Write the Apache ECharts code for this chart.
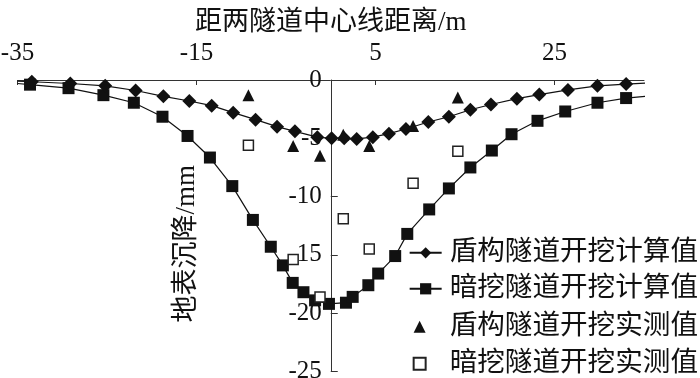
<!DOCTYPE html>
<html>
<head>
<meta charset="utf-8">
<script src="https://cdn.jsdelivr.net/npm/echarts@6/dist/echarts.min.js"></script>
<style>html,body{margin:0;padding:0;background:#fff}#c{width:700px;height:378px}</style>
</head>
<body>
<div id="c"></div>
<script>
// 盾构隧道开挖计算值 [x (m), settlement (mm)]
var shieldCalc = [[-35,-0.1],[-33.4,-0.15],[-29.1,-0.3],[-25.2,-0.5],[-21.8,-0.9],[-18.7,-1.4],[-15.8,-1.8],[-13.3,-2.2],[-10.9,-2.8],[-8.4,-3.4],[-6.0,-4.0],[-4.0,-4.4],[-1.5,-4.9],[0.1,-5.0],[1.5,-5.0],[2.9,-5.05],[4.7,-4.9],[6.5,-4.6],[8.4,-4.2],[10.9,-3.6],[13.2,-3.15],[15.6,-2.55],[17.9,-2.1],[20.8,-1.6],[23.3,-1.25],[26.5,-0.85],[29.8,-0.5],[33.0,-0.35],[35.7,-0.25]];
// 暗挖隧道开挖计算值
var minedCalc = [[-35,-0.3],[-33.6,-0.4],[-29.3,-0.7],[-25.4,-1.3],[-22.0,-1.95],[-18.8,-3.15],[-16.0,-4.8],[-13.5,-6.65],[-11.0,-9.1],[-8.7,-12.0],[-6.7,-14.3],[-5.35,-15.9],[-4.25,-17.4],[-3.05,-18.2],[-1.75,-18.9],[-0.2,-19.2],[1.7,-19.1],[2.45,-18.6],[4.2,-17.6],[5.3,-16.6],[7.2,-15.1],[8.55,-13.2],[11.0,-11.1],[13.2,-9.3],[15.6,-7.5],[18.0,-6.05],[20.2,-4.65],[23.1,-3.5],[26.2,-2.7],[29.8,-1.95],[33.0,-1.55],[35.8,-1.35]];
// 盾构隧道开挖实测值
var shieldMeas = [[-9.2,-1.3],[-4.2,-5.65],[-1.2,-6.5],[1.4,-4.7],[4.3,-5.65],[9.2,-3.95],[14.2,-1.5]];
// 暗挖隧道开挖实测值
var minedMeas = [[-9.2,-5.6],[-4.2,-15.4],[-1.2,-18.6],[1.4,-11.9],[4.3,-14.5],[9.2,-8.85],[14.2,-6.1]];
var seriesNames = ['盾构隧道开挖计算值','暗挖隧道开挖计算值','盾构隧道开挖实测值','暗挖隧道开挖实测值'];
var xTicks = [-35,-15,5,25];
var yTicks = [-25,-20,-15,-10,-5,0];
var xName = '距两隧道中心线距离/m';
var yName = '地表沉降/mm';

function lineData(arr){
  return arr.map(function(p,i){
    if(i===0 || i===arr.length-1) return {value:p, symbol:'none'};
    return p;
  });
}
var serif = '"Liberation Serif","Noto Sans CJK SC",serif';
var cjk = '"Liberation Serif","Noto Sans CJK SC",sans-serif';
var legendTops = [239, 275, 313, 350];
var legends = seriesNames.map(function(n,i){
  var isLine = i < 2;
  return {
    orient:'vertical', right:2, top:legendTops[i], padding:0,
    itemWidth: isLine ? 32 : 12, itemHeight: isLine ? 14 : 12,
    data:[n],
    textStyle:{fontFamily:cjk,fontSize:27.6,color:'#111',padding: isLine ? [0,0,0,3] : [0,0,0,19]}
  };
});
var gridLeft = 17.5, gridRight = 56, plotW = 700 - gridLeft - gridRight;
var xMin = -35, xMax = 35;
var yAxisOffset = -plotW * (0 - xMin) / (xMax - xMin);
var chart = echarts.init(document.getElementById('c'), null, {renderer:'canvas'});
chart.setOption({
  animation:false,
  backgroundColor:'#fff',
  grid:{left:gridLeft,right:gridRight,top:80,bottom:6.5,containLabel:false,outerBoundsMode:'none'},
  legend:legends,
  xAxis:{
    type:'value', position:'top', min:xMin, max:xMax,
    name:xName, nameLocation:'middle', nameGap:44,
    nameTextStyle:{fontFamily:cjk,fontSize:27,color:'#111'},
    axisLine:{onZero:false,lineStyle:{color:'#333',width:1}},
    axisTick:{inside:true,length:5,customValues:xTicks,lineStyle:{color:'#333'}},
    axisLabel:{customValues:xTicks,margin:14,fontFamily:serif,fontSize:25,color:'#111'},
    splitLine:{show:false}
  },
  yAxis:{
    type:'value', position:'left', offset:yAxisOffset, min:-25, max:0, interval:5,
    name:yName, nameLocation:'middle', nameGap:130,
    nameTextStyle:{fontFamily:cjk,fontSize:27,color:'#111',padding:[0,36,0,0]},
    axisLine:{onZero:false,lineStyle:{color:'#333',width:1}},
    axisTick:{inside:true,length:7,customValues:yTicks,lineStyle:{color:'#333'}},
    axisLabel:{customValues:yTicks,margin:9,fontFamily:serif,fontSize:25,color:'#111'},
    splitLine:{show:false}
  },
  series:[
    {name:seriesNames[0],type:'line',data:lineData(shieldCalc),symbol:'diamond',symbolSize:14,clip:false,
     itemStyle:{color:'#111'},lineStyle:{color:'#111',width:1.2},z:3},
    {name:seriesNames[1],type:'line',data:lineData(minedCalc),symbol:'rect',symbolSize:12,clip:false,
     itemStyle:{color:'#111'},lineStyle:{color:'#111',width:1.2},z:2},
    {name:seriesNames[2],type:'scatter',data:shieldMeas,symbol:'triangle',symbolSize:12,
     itemStyle:{color:'#111',opacity:1},z:4},
    {name:seriesNames[3],type:'scatter',data:minedMeas,symbol:'rect',symbolSize:10,
     itemStyle:{color:'#fff',borderColor:'#222',borderWidth:1.5,opacity:1},z:4}
  ]
});
</script>
</body>
</html>
